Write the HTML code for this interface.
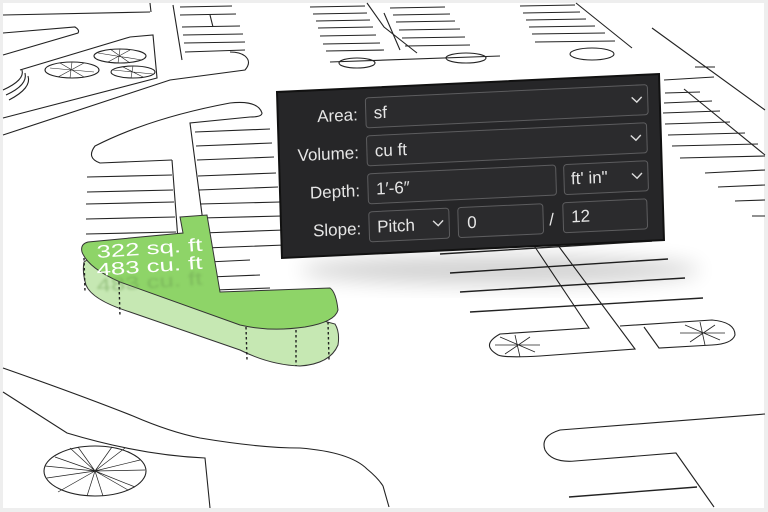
<!DOCTYPE html>
<html><head><meta charset="utf-8"><style>
html,body{margin:0;padding:0;background:#eee;}
svg{display:block;}
</style></head><body>
<svg width="768" height="512" viewBox="0 0 768 512" xmlns="http://www.w3.org/2000/svg">
<defs>
<filter id="bl" x="-20%" y="-50%" width="140%" height="200%"><feGaussianBlur stdDeviation="10"/></filter>
<filter id="bl2"><feGaussianBlur stdDeviation="1.2"/></filter>
</defs>
<rect x="3" y="3" width="761" height="505" fill="#fff"/>
<g fill="none" stroke="#222" stroke-width="1.1">
<path d="M3 15 L150 12 M150 3 L151 12"/>
<path d="M3 33 L75 27 Q80 30 78 33 L3 55"/>
<path d="M20 70 L130 37 L153 35 L157 78 L3 118"/>
<path d="M3 135 Q80 110 170 80 L245 70 Q252 62 245 56 Q240 52 230 52"/>
<path d="M3 90 Q25 80 22 70 M6 95 Q28 85 25 73 M9 100 Q32 88 28 76"/>
<path d="M173 5 L182 60"/>
<path d="M180 7 L232 6 M180 15 L236 14 M182 27 L240 26 M183 35 L243 34 M184 43 L245 42 M185 52 L245 50 M210 15 L213 27"/>
<ellipse cx="120" cy="56" rx="26" ry="7"/><ellipse cx="72" cy="70" rx="27" ry="8"/><ellipse cx="133" cy="72" rx="22" ry="6"/>
<path d="M98 53 L142 60 M110 49 L130 63 M120 49 L118 63 M130 50 L108 62 M50 68 L94 72 M60 63 L84 77 M72 62 L70 78 M84 63 L58 77 M113 70 L153 74 M123 67 L143 77 M133 66 L131 78" stroke-width="0.6"/>
<path d="M172 160 L100 163 Q86 158 95 146 Q150 118 230 103 Q258 100 262 113 Q262 117 250 117 L190 123 L203 222"/>
<path d="M172 160 L178 240"/>
<path d="M87 177 L172 175 M87 192 L173 190 M86 204 L174 202 M86 219 L175 217 M86 234 L176 232"/>
<path d="M195 132 L270 129 M196 146 L272 143 M197 160 L274 157 M198 176 L276 173 M199 190 L278 187 M200 204 L280 202 M201 218 L282 216 M203 233 L284 230 M205 248 L285 245 M208 262 L250 260 M210 277 L260 275 M215 290 L270 288"/>
<path d="M310 7 L365 6 M313 14 L367 13 M316 21 L370 20 M318 28 L373 27 M320 36 L376 35 M323 44 L380 43 M326 51 L384 50 M367 3 L384 27 L417 53"/>
<path d="M390 8 L445 7 M393 15 L450 14 M396 22 L455 21 M399 30 L460 29 M402 38 L465 37 M405 46 L470 45 M384 13 L400 50"/>
<path d="M330 62 L500 56"/>
<ellipse cx="357" cy="63" rx="18" ry="5"/><ellipse cx="466" cy="58" rx="20" ry="5"/>
<path d="M520 6 L575 5 M523 13 L580 12 M526 20 L586 19 M529 27 L595 26 M532 34 L605 33 M535 42 L615 41 M576 3 L632 48"/>
<ellipse cx="592" cy="54" rx="22" ry="6"/>
<path d="M652 28 L765 110 M695 67 L715 67 M664 80 L714 77 M684 89 L765 155"/>
<path d="M665 93 L700 92 M664 103 L712 101 M663 113 L720 111 M665 124 L730 122 M668 135 L745 133 M672 146 L758 144 M680 158 L765 156 M705 173 L765 170 M718 187 L765 185 M735 201 L765 200 M752 216 L765 216"/>
<path d="M440 254 L652 241 M450 273 L668 259 M460 292 L685 278 M470 312 L703 298" stroke-width="1.4"/>
<path d="M533 244 L589 328 L500 334 Q480 345 498 355 Q505 358 540 356 L635 349 L557 244"/>
<path d="M620 326 L712 320 Q735 322 735 335 Q732 344 712 345 L659 348 L644 327"/>
<path d="M765 414 L560 430 Q540 436 545 450 Q552 463 575 461 L676 453 L714 507"/>
<path d="M569 497 L697 487" stroke-width="1.4"/>
<path d="M495 345 L540 345 M500 337 L535 352 M515 335 L520 357 M530 337 L505 354 M680 333 L725 333 M685 325 L720 340 M700 322 L705 345 M715 325 L690 342" stroke-width="0.8"/>
<path d="M3 368 Q80 395 133 416 Q170 432 200 438 Q260 448 300 448 Q350 452 367 469 Q378 478 383 486 L389 507"/>
<path d="M3 392 L67 433 Q140 455 205 458 L210 508"/>
<ellipse cx="95" cy="471" rx="51" ry="25"/>
<path d="M95 471 L70 448 M95 471 L78 447 M95 471 L112 447 M95 471 L125 448 M95 471 L140 460 M95 471 L145 470 M95 471 L135 487 M95 471 L87 496 M95 471 L58 492 M95 471 L47 478 M95 471 L45 466 M95 471 L55 457 M95 471 L128 490 M95 471 L103 496" stroke-width="0.7"/>
</g>
<ellipse cx="500" cy="270" rx="200" ry="14" fill="#000" opacity="0.18" filter="url(#bl)"/>
<path d="M84 262 Q82 272 86 285 Q92 300 130 312 L240 350 Q270 365 300 366 Q330 364 338 345 Q340 332 335 324 L90 258 Z" fill="#c6e8b3" stroke="#333" stroke-width="1"/>
<path d="M180 217 L207 215 L220 292 L330 288 Q336 292 338 310 Q335 322 305 327 Q270 332 240 325 Q170 300 120 282 Q88 268 82 252 Q80 244 88 242 L183 233 Z" fill="#8ed468" stroke="#333" stroke-width="1"/>
<g stroke="#222" stroke-width="1.4" stroke-dasharray="2.5,2.5" fill="none">
<path d="M84 258 L85 292 M119 282 L120 317 M246 327 L247 360 M296 330 L296 366 M328 322 L329 360"/>
</g>
<g font-family="Liberation Sans, sans-serif" font-size="18" fill="#fff">
<text x="97" y="258" transform="rotate(-4 97 258)" textLength="106" lengthAdjust="spacingAndGlyphs">322 sq. ft</text>
<text x="97" y="276" transform="rotate(-4 97 276)" textLength="106" lengthAdjust="spacingAndGlyphs">483 cu. ft</text>
<text x="97" y="292" transform="rotate(-4 97 292)" textLength="106" lengthAdjust="spacingAndGlyphs" fill="#6da052" opacity="0.5" filter="url(#bl2)">483 cu. ft</text>
</g>
<g transform="matrix(1 -0.047 0.03 1 277 92)" font-family="Liberation Sans, sans-serif" font-size="17" fill="#e6e6e6">
<rect x="0" y="0" width="382" height="166" fill="#262628" stroke="#111" stroke-width="2"/>
<g fill="#2b2b2d" stroke="#5d5d5f" stroke-width="1">
<rect x="88" y="10" width="282" height="30" rx="3"/>
<rect x="88" y="48" width="280" height="30" rx="3"/>
<rect x="88" y="86" width="188" height="30" rx="3"/>
<rect x="284" y="86" width="84" height="30" rx="3"/>
<rect x="88" y="124" width="80" height="30" rx="3"/>
<rect x="177" y="124" width="85" height="30" rx="3"/>
<rect x="282" y="124" width="84" height="30" rx="3"/>
</g>
<text x="80" y="32" text-anchor="end">Area:</text>
<text x="80" y="70" text-anchor="end">Volume:</text>
<text x="80" y="108" text-anchor="end">Depth:</text>
<text x="80" y="146" text-anchor="end">Slope:</text>
<text x="96" y="31">sf</text>
<text x="96" y="69">cu ft</text>
<text x="96" y="107">1′-6″</text>
<text x="291" y="106">ft' in"</text>
<text x="96" y="145">Pitch</text>
<text x="186" y="145">0</text>
<text x="268" y="146">/</text>
<text x="290" y="144">12</text>
<g fill="none" stroke="#ddd" stroke-width="1.4">
<path d="M354 22 L359 27 L364 22"/><path d="M352 60 L357 65 L362 60"/><path d="M352 98 L357 103 L362 98"/><path d="M152 136 L157 141 L162 136"/>
</g>
</g>
</svg>
</body></html>
